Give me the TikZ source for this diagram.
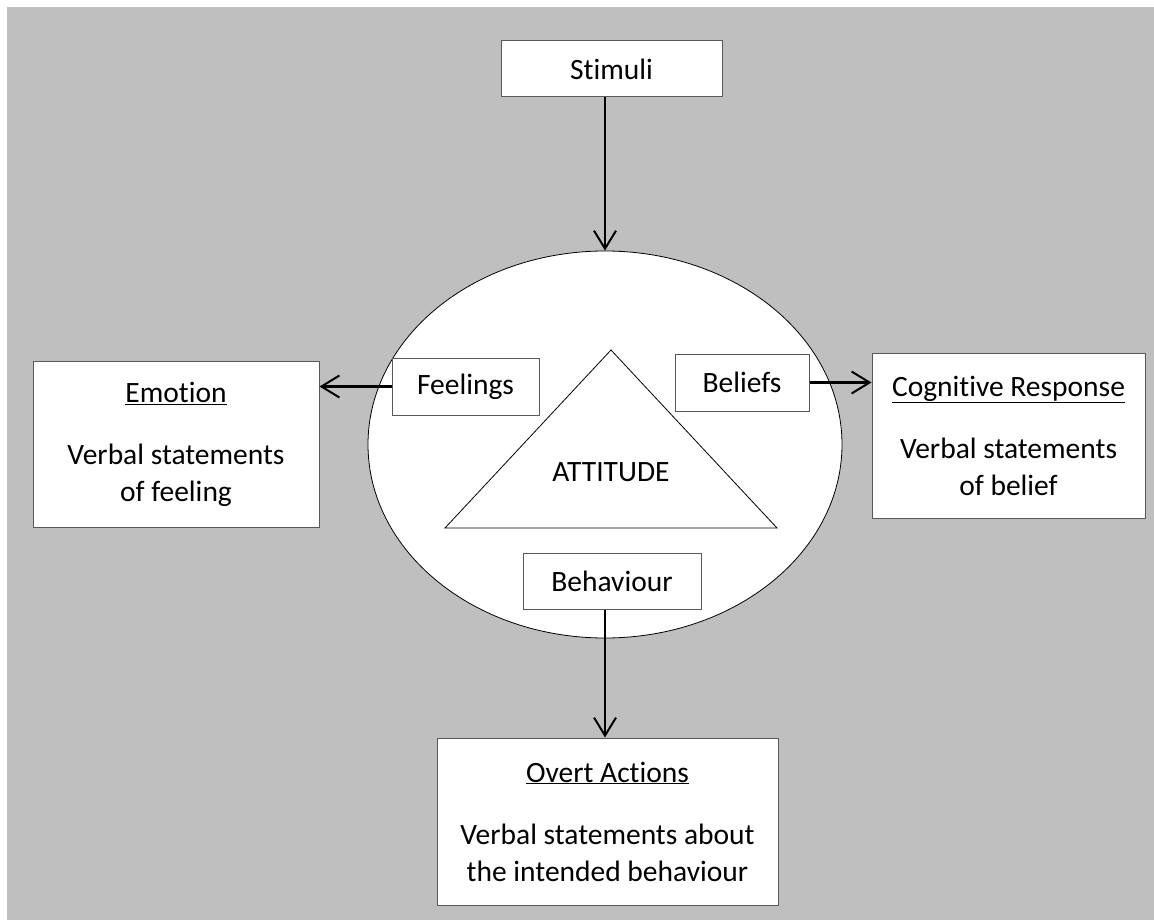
\documentclass[tikz,border=0pt]{standalone}
\usepackage{fontspec}
\setmainfont{Carlito}[Ligatures=NoCommon]
\usetikzlibrary{arrows.meta,shapes.geometric}
\definecolor{bggray}{RGB}{191,191,191}
\definecolor{boxline}{RGB}{89,89,89}

\begin{document}
\begin{tikzpicture}[x=1pt,y=-1pt,
  font=\fontsize{29.5}{37}\selectfont,
  box/.style={draw=boxline,line width=1pt,fill=white,align=center,inner sep=0pt},
  arr/.style={-{Straight Barb[length=18pt,width=22pt,line width=2pt]},line width=2.2pt}]
\newcommand{\gap}{\\[25pt]}

\useasboundingbox (0,0) rectangle (1154,920);
\fill[bggray] (7,7) rectangle (1154,920);

\node[ellipse,draw,line width=0.8pt,fill=white,minimum width=474pt,minimum height=387pt,inner sep=0pt] (ell) at (605,444.5) {};
\draw[line width=0.8pt] (611,350) -- (777,528) -- (445,528) -- cycle;
\node (att) at (611,472) {ATTITUDE};

\node[box,minimum width=221pt,minimum height=56pt] (stim) at (611.5,69) {Stimuli};
\node[box,minimum width=147pt,minimum height=57pt] (feel) at (465.5,386.5) {Feelings};
\node[box,minimum width=134pt,minimum height=57pt] (bel) at (742,382.5) {Beliefs};
\node[box,minimum width=178pt,minimum height=56pt] (beh) at (612,581) {Behaviour};

\node[box,minimum width=286pt,minimum height=166pt] (emo) at (176,444) {\underline{Emotion}\gap Verbal statements\\ of feeling};
\node[box,minimum width=273pt,minimum height=165pt] (cog) at (1008.5,435.5) {\underline{Cognitive Response}\gap Verbal statements\\ of belief};
\node[box,minimum width=341pt,minimum height=167pt] (ovt) at (607.5,821.5) {\underline{Overt Actions}\gap Verbal statements about\\ the intended behaviour};

\draw[arr] (stim.south -| ell.north) -- (ell.north);
\draw[arr] (feel.west) -- (emo.east |- feel.west);
\draw[arr] (bel.east) -- (cog.west |- bel.east);
\draw[arr] (beh.south -| ell.south) -- (ovt.north -| ell.south);
\end{tikzpicture}
\end{document}
